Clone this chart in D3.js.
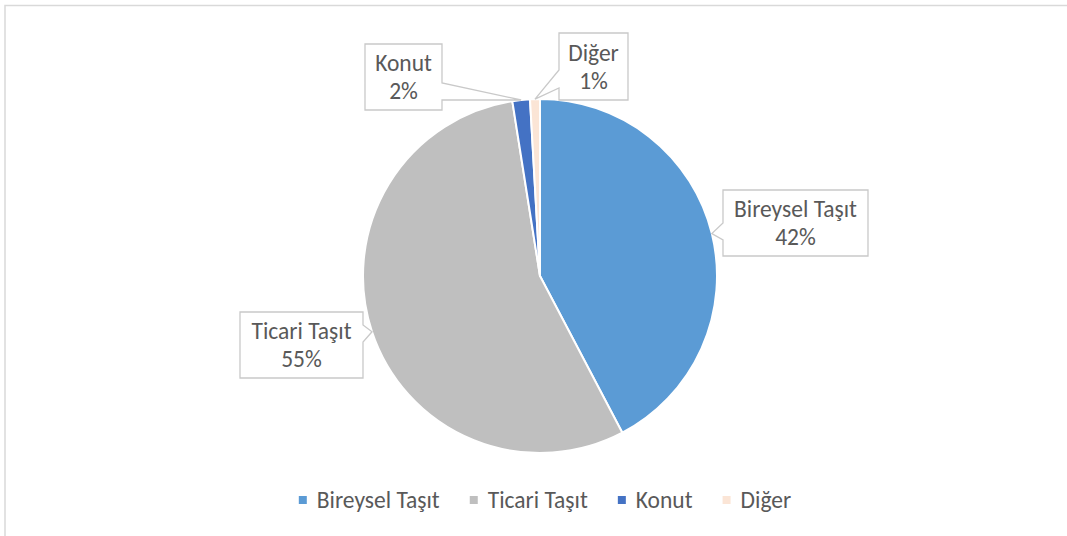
<!DOCTYPE html>
<html>
<head>
<meta charset="utf-8">
<script src="https://cdn.jsdelivr.net/npm/d3@7"></script>
<style>
  html, body { margin: 0; padding: 0; background: #ffffff; }
  svg { display: block; }
  text { font-family: Carlito, Lato, "Open Sans", sans-serif; fill: #595959; }
</style>
</head>
<body>
<svg id="chart" width="1067" height="536"></svg>
<script>
// Loan portfolio breakdown by category
const categories = ["Bireysel Taşıt", "Ticari Taşıt", "Konut", "Diğer"];
const values = [42.3, 55.2, 1.6, 0.9];
const colors = ["#5B9BD5", "#BFBFBF", "#4472C4", "#FBE5D6"];

// Callout boxes: rectangle, which side carries the pointer, and the pointer base span
const callouts = [
  { x: 723, y: 190, w: 145, h: 66, side: "left",  b0: 223, b1: 240 },
  { x: 240, y: 312, w: 123, h: 66, side: "right", b0: 325, b1: 342 },
  { x: 365, y: 44,  w: 77,  h: 66, side: "right", b0: 83,  b1: 100 },
  { x: 559, y: 33,  w: 69,  h: 67, side: "left",  b0: 70,  b1: 88 }
];

const svg = d3.select("#chart");
const W = 1067, H = 536;
const FONT = 23.5;

// chart area frame
svg.append("rect")
  .attr("x", 5).attr("y", 5.5)
  .attr("width", W + 10).attr("height", H + 10)
  .attr("fill", "none").attr("stroke", "#D9D9D9").attr("stroke-width", 1.5);

const cx = 540, cy = 276, R = 177;
const total = d3.sum(values);
const data = categories.map((c, i) => ({ name: c, value: values[i], color: colors[i], callout: callouts[i] }));

const pie = d3.pie().value(d => d.value).sort(null);
const arcs = pie(data);
const arc = d3.arc().innerRadius(0).outerRadius(R);

const g = svg.append("g").attr("transform", `translate(${cx},${cy})`);
g.selectAll("path.slice")
  .data(arcs)
  .join("path")
  .attr("class", "slice")
  .attr("d", arc)
  .attr("fill", d => d.data.color)
  .attr("stroke", "#ffffff")
  .attr("stroke-width", 2)
  .attr("stroke-linejoin", "round");

// callout path: rectangle with a wedge pointing at the slice edge
function calloutPath(c, tip) {
  const x0 = c.x, x1 = c.x + c.w, y0 = c.y, y1 = c.y + c.h;
  const p = d3.path();
  p.moveTo(x0, y0);
  p.lineTo(x1, y0);
  if (c.side === "right") {
    p.lineTo(x1, c.b0);
    p.lineTo(tip[0], tip[1]);
    p.lineTo(x1, c.b1);
  }
  p.lineTo(x1, y1);
  p.lineTo(x0, y1);
  if (c.side === "left") {
    p.lineTo(x0, c.b1);
    p.lineTo(tip[0], tip[1]);
    p.lineTo(x0, c.b0);
  }
  p.closePath();
  return p.toString();
}

const labels = svg.append("g");
arcs.forEach(a => {
  const c = a.data.callout;
  const mid = (a.startAngle + a.endAngle) / 2;
  const tip = [cx + R * Math.sin(mid), cy - R * Math.cos(mid)];
  labels.append("path")
    .attr("d", calloutPath(c, tip))
    .attr("fill", "#ffffff")
    .attr("stroke", "#C9C9C9")
    .attr("stroke-width", 1.3)
    .attr("stroke-linejoin", "miter");
  const tx = c.x + c.w / 2;
  const ty = c.y + c.h / 2;
  const t = labels.append("text")
    .attr("text-anchor", "middle")
    .attr("font-size", FONT);
  t.append("tspan").attr("x", tx).attr("y", ty - 6).text(a.data.name);
  t.append("tspan").attr("x", tx).attr("y", ty + 22)
    .text(Math.round(a.data.value / total * 100) + "%");
});

// legend
const legend = svg.append("g");
const items = legend.selectAll("g.item").data(data).join("g").attr("class", "item");
items.append("rect")
  .attr("width", 8).attr("height", 8)
  .attr("y", -12)
  .attr("fill", d => d.color);
items.append("text")
  .attr("x", 18)
  .attr("font-size", FONT)
  .text(d => d.name);
let offset = 0;
const positions = [];
items.each(function () {
  positions.push(offset);
  const w = this.querySelector("text").getComputedTextLength();
  offset += 18 + w + 30;
});
const legendWidth = offset - 30;
const startX = 545 - legendWidth / 2;
items.attr("transform", (d, i) => `translate(${startX + positions[i]},508)`);
</script>
</body>
</html>
